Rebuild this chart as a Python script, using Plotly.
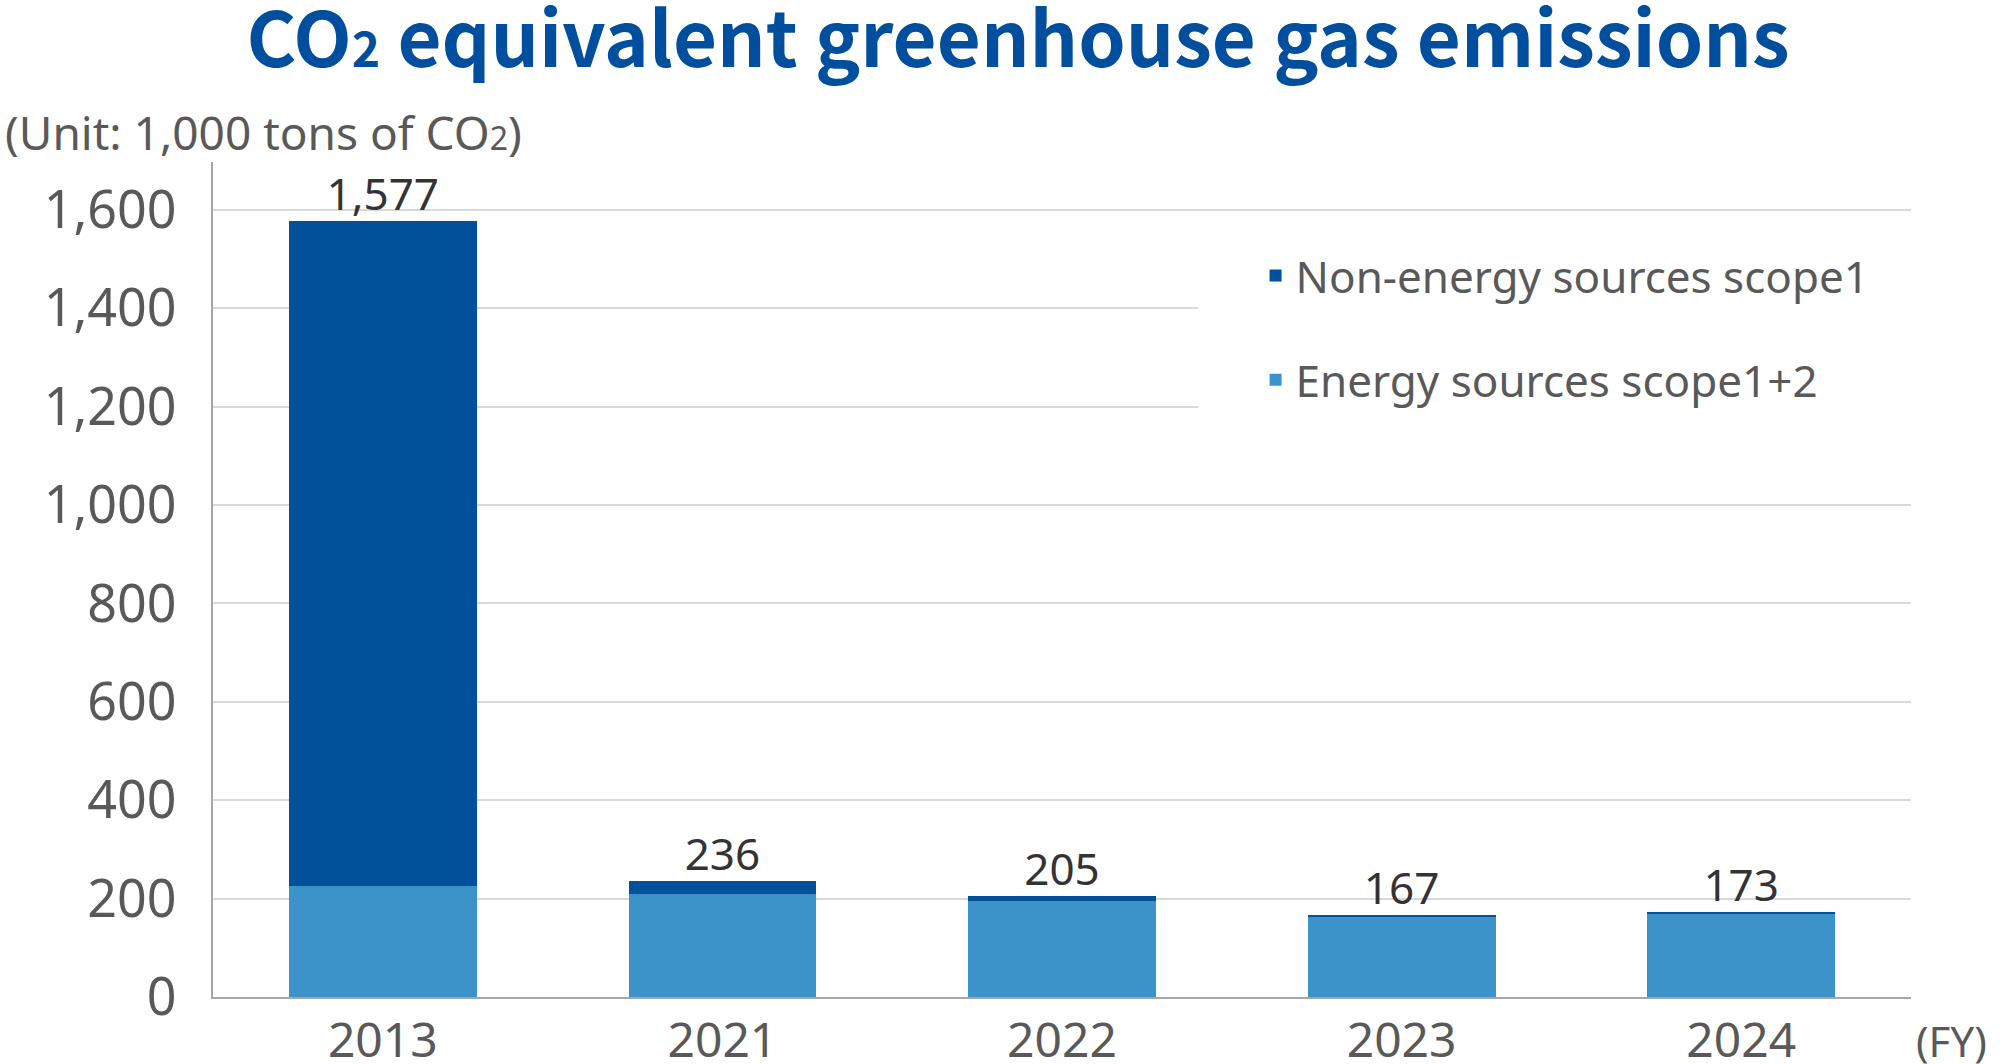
import plotly.graph_objects as go

years = ["2013", "2021", "2022", "2023", "2024"]
energy = [226, 210, 196, 162, 170]
non_energy = [1351, 26, 9, 5, 3]
totals = [1577, 236, 205, 167, 173]
y_ticks = [0, 200, 400, 600, 800, 1000, 1200, 1400, 1600]
y_ticklabels = ["0", "200", "400", "600", "800", "1,000", "1,200", "1,400", "1,600"]

FONT = "Noto Sans"
TITLE_FONT = "Noto Sans CJK JP"
dark_blue = "#00519a"
light_blue = "#3c93c9"
gray_text = "#595959"

fig = go.Figure()
fig.add_trace(go.Bar(x=years, y=energy, name="Energy sources scope1+2",
                     marker=dict(color=light_blue, line=dict(width=0)),
                     legendgroup="e", legendrank=2, hoverinfo="y"))
fig.add_trace(go.Bar(x=years, y=non_energy, name="Non-energy sources scope1",
                     marker=dict(color=dark_blue, line=dict(width=0)),
                     legendgroup="n", legendrank=1, hoverinfo="y"))

# total labels above each stack
fig.add_trace(go.Scatter(x=years, y=totals, mode="text",
                         text=[f"{v:,}" for v in totals],
                         textposition="top center", cliponaxis=False,
                         textfont=dict(family=FONT, size=44, color="#333333"),
                         showlegend=False, hoverinfo="skip"))

fig.update_layout(
    width=2000, height=1064,
    barmode="stack", bargap=0.447,
    plot_bgcolor="white", paper_bgcolor="white",
    margin=dict(l=213, r=89, t=162, b=67),
    font=dict(family=FONT, color=gray_text),
    title=dict(text="CO<span style='font-size:48px'>2</span> equivalent greenhouse gas emissions",
               x=0.509, xanchor="center", y=0.962, yanchor="middle",
               font=dict(family=TITLE_FONT, size=76, color="#004f9e", weight=700)),
    legend=dict(x=0.614, xanchor="left", y=0.906, yanchor="top",
                bgcolor="rgba(0,0,0,0)", traceorder="grouped",
                tracegroupgap=44, font=dict(family=FONT, size=44, color=gray_text),
                itemwidth=30),
    showlegend=True,
)
# white panel behind the legend hides the gridlines there
fig.add_shape(type="rect", xref="x", yref="y", x0=2.4, x1=4.5,
              y0=1100, y1=1560, fillcolor="white", line=dict(width=0),
              layer="above")

fig.update_yaxes(range=[0, 1697], tickvals=y_ticks, ticktext=y_ticklabels,
                 showgrid=True, gridcolor="#d9d9d9", gridwidth=2,
                 showline=True, linecolor="#a6a6a6", linewidth=2,
                 zeroline=False, ticks="", ticklabelstandoff=24, automargin=False,
                 tickfont=dict(family=FONT, size=52, color=gray_text))
fig.update_xaxes(range=[-0.5, 4.5], showline=True, linecolor="#a6a6a6", linewidth=2,
                 ticks="", ticklabelstandoff=0, automargin=False,
                 tickfont=dict(family=FONT, size=48, color=gray_text))

fig.add_annotation(text="(Unit: 1,000 tons of CO<span style='font-size:32px'>2</span>)",
                   xref="paper", yref="paper", x=-0.1237, y=1.036,
                   xanchor="left", yanchor="middle", showarrow=False,
                   font=dict(family=FONT, size=46, color=gray_text))
fig.add_annotation(text="(FY)", xref="paper", yref="paper", x=1.002, y=-0.052,
                   xanchor="left", yanchor="middle", showarrow=False,
                   font=dict(family=FONT, size=42, color=gray_text))

# drop the default page margin so the figure fills the window
fig.write_html("out.html", config={"displayModeBar": False},
               post_script="document.body.style.margin='0';")
